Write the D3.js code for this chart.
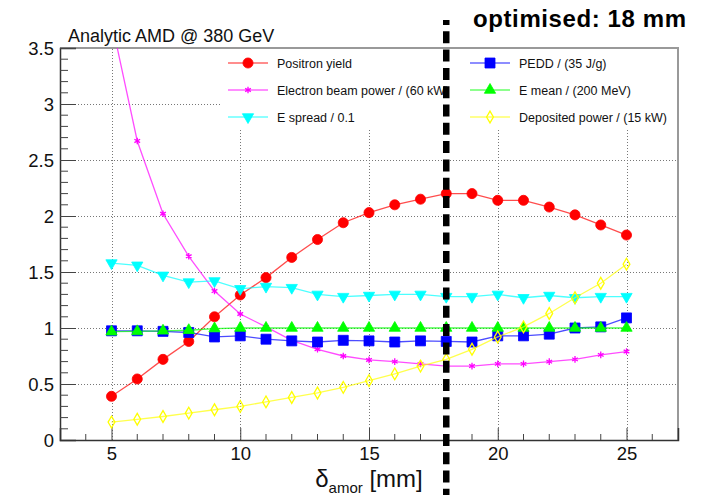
<!DOCTYPE html>
<html>
<head>
<meta charset="utf-8">
<script src="https://cdn.jsdelivr.net/npm/d3@7"></script>
<style>
  body { margin: 0; background: #fff; }
  svg { display: block; font-family: "Liberation Sans", Arial, Helvetica, sans-serif; }
</style>
</head>
<body>
<div id="chart"></div>
<script>
// x positions (amorphous target thickness, mm)
var amorMm = [5, 6, 7, 8, 9, 10, 11, 12, 13, 14, 15, 16, 17, 18, 19, 20, 21, 22, 23, 24, 25];

var positronYield = [0.39, 0.545, 0.72, 0.88, 1.10, 1.295, 1.45, 1.63, 1.79, 1.94, 2.03, 2.10, 2.15, 2.20, 2.20, 2.14, 2.14, 2.08, 2.01, 1.92, 1.83];
var beamPower     = [3.74, 2.67, 2.02, 1.64, 1.33, 1.125, 1.01, 0.89, 0.81, 0.75, 0.715, 0.70, 0.68, 0.66, 0.66, 0.68, 0.68, 0.70, 0.72, 0.76, 0.79];
var eSpread       = [1.58, 1.56, 1.47, 1.41, 1.42, 1.35, 1.37, 1.36, 1.30, 1.28, 1.29, 1.30, 1.30, 1.28, 1.28, 1.30, 1.27, 1.29, 1.27, 1.28, 1.28];
var pedd          = [0.975, 0.975, 0.97, 0.96, 0.92, 0.93, 0.90, 0.885, 0.875, 0.89, 0.885, 0.875, 0.885, 0.88, 0.875, 0.93, 0.93, 0.945, 1.0, 1.01, 1.09];
var eMean         = [0.967, 0.97, 0.975, 0.98, 0.995, 1.0, 1.0, 1.0, 1.0, 1.0, 1.0, 1.0, 1.0, 1.0, 1.0, 1.0, 1.0, 1.0, 1.0, 1.0, 1.0];
var depPower      = [0.16, 0.185, 0.21, 0.24, 0.27, 0.30, 0.34, 0.38, 0.42, 0.47, 0.53, 0.59, 0.66, 0.72, 0.81, 0.92, 1.01, 1.13, 1.27, 1.40, 1.57];

var yTicks = [0, 0.5, 1, 1.5, 2, 2.5, 3, 3.5];
var xTicks = [5, 10, 15, 20, 25];
var optimum = 18;

var W = 703, H = 495;
var L = 60, R = 678, T = 48, B = 440;

var svg = d3.select('#chart').append('svg').attr('width', W).attr('height', H);
svg.append('rect').attr('width', W).attr('height', H).attr('fill', '#fff');

var x = d3.scaleLinear().domain([3, 27]).range([L, R]);
var y = d3.scaleLinear().domain([0, 3.5]).range([B, T]);

// grid
var grid = svg.append('g').attr('stroke', '#777').attr('stroke-width', 1).attr('stroke-dasharray', '1,2');
grid.selectAll('line.gx').data(xTicks).enter().append('line')
	.attr('x1', function(d) { return Math.round(x(d)) + 0.5; }).attr('x2', function(d) { return Math.round(x(d)) + 0.5; })
	.attr('y1', B).attr('y2', T);
grid.selectAll('line.gy').data(yTicks.slice(1)).enter().append('line')
	.attr('y1', function(d) { return Math.round(y(d)) + 0.5; }).attr('y2', function(d) { return Math.round(y(d)) + 0.5; })
	.attr('x1', L).attr('x2', R);

// legend box hides the grid
var legX = 220, legY = T, legW = R - legX, legH = 82;
svg.append('rect').attr('x', legX).attr('y', legY).attr('width', legW).attr('height', legH).attr('fill', '#fff');

// frame (top / right in grey)
svg.append('path').attr('d', 'M' + L + ',' + T + 'H' + R + 'V' + B)
	.attr('fill', 'none').attr('stroke', '#999').attr('stroke-width', 2);

// axes
var yAxis = d3.axisLeft(y).tickValues(yTicks).tickSize(-16).tickPadding(6)
	.tickFormat(function(d) { return d3.format('')(d); });
var gy = svg.append('g').attr('transform', 'translate(' + L + ',0)').call(yAxis);
var xAxis = d3.axisBottom(x).tickValues(xTicks).tickSize(-12).tickPadding(7).tickFormat(d3.format('d'));
var gx = svg.append('g').attr('transform', 'translate(0,' + B + ')').call(xAxis);
[gx, gy].forEach(function(g) {
	g.select('.domain').attr('stroke', '#333').attr('stroke-width', 1.5);
	g.selectAll('.tick line').attr('stroke', '#444');
	g.selectAll('.tick text').attr('fill', '#111').attr('font-size', 18.5).attr('font-family', '"Liberation Sans", Arial, sans-serif');
});
gy.selectAll('.tick text').attr('dy', '0.36em');

// minor ticks
var yMinor = d3.range(0, 36).map(function(i) { return i / 10; }).filter(function(v) { return Math.round(v * 10) % 5 !== 0; });
svg.append('g').selectAll('line').data(yMinor).enter().append('line')
	.attr('x1', L).attr('x2', L + 8)
	.attr('y1', function(d) { return y(d); }).attr('y2', function(d) { return y(d); })
	.attr('stroke', '#444');
var xMinor = d3.range(4, 27).filter(function(v) { return v % 5 !== 0; });
svg.append('g').selectAll('line').data(xMinor).enter().append('line')
	.attr('y1', B).attr('y2', B - 6)
	.attr('x1', function(d) { return x(d); }).attr('x2', function(d) { return x(d); })
	.attr('stroke', '#444');

// series
var series = [
	{name: 'Positron yield', vals: positronYield, color: '#ff0000', sym: d3.symbolCircle, size: 80, fill: true},
	{name: 'Electron beam power / (60 kW)', vals: beamPower, color: '#ff00ff', sym: d3.symbolAsterisk, size: 30, fill: false},
	{name: 'PEDD / (35 J/g)', vals: pedd, color: '#0000ff', sym: d3.symbolSquare, size: 100, fill: true},
	{name: 'E mean / (200 MeV)', vals: eMean, color: '#00ff00', sym: d3.symbolTriangle, size: 55, fill: true},
	{name: 'E spread / 0.1', vals: eSpread, color: '#00ffff', sym: d3.symbolTriangle, size: 55, fill: true, flip: true},
	{name: 'Deposited power / (15 kW)', vals: depPower, color: '#ffff00', sym: d3.symbolDiamond, size: 40, fill: false}
];

svg.append('clipPath').attr('id', 'frameClip').append('rect')
	.attr('x', L).attr('y', T).attr('width', R - L).attr('height', B - T);
var plot = svg.append('g').attr('clip-path', 'url(#frameClip)');

function marker(sel, s) {
	sel.attr('d', d3.symbol().type(s.sym).size(s.size))
		.attr('fill', s.fill ? s.color : 'none')
		.attr('stroke', s.color)
		.attr('stroke-width', s.fill ? 0.8 : 1.3);
}

series.forEach(function(s) {
	var pts = amorMm.map(function(a, i) { return [a, s.vals[i]]; });
	var line = d3.line().x(function(d) { return x(d[0]); }).y(function(d) { return y(d[1]); });
	plot.append('path').datum(pts).attr('d', line)
		.attr('fill', 'none').attr('stroke', s.color).attr('stroke-width', 1.3).attr('stroke-opacity', 0.7);
	plot.append('g').selectAll('path').data(pts).enter().append('path')
		.attr('transform', function(d) { return 'translate(' + x(d[0]) + ',' + y(d[1]) + ')' + (s.flip ? ' rotate(180)' : ''); })
		.call(marker, s);
});

// legend: rows of [left, right] series index
var legRows = [[0, 2], [1, 3], [4, 5]];
var rowY = [63, 90, 117];
var colX = [228, 470];
legRows.forEach(function(row, r) {
	row.forEach(function(si, c) {
		var s = series[si];
		var g = svg.append('g').attr('transform', 'translate(' + colX[c] + ',' + rowY[r] + ')');
		g.append('line').attr('x1', 0).attr('x2', 40).attr('stroke', s.color).attr('stroke-width', 1.3).attr('stroke-opacity', 0.6);
		g.append('path').attr('transform', 'translate(20,0)' + (s.flip ? ' rotate(180)' : '')).call(marker, s);
		g.append('text').attr('x', 49).attr('y', 4.5).attr('font-size', 12.5).attr('fill', '#111').text(s.name);
	});
});

// title
svg.append('text').attr('x', 68).attr('y', 42).attr('font-size', 18).attr('fill', '#111').text('Analytic AMD @ 380 GeV');

// x axis title
var xt = svg.append('text').attr('x', (L + R) / 2).attr('y', 487).attr('text-anchor', 'middle')
	.attr('font-size', 24).attr('fill', '#111');
xt.append('tspan').text('\u03b4');
xt.append('tspan').attr('font-size', 15).attr('dy', 6).text('amor');
xt.append('tspan').attr('dy', -6).text(' [mm]');

// optimum marker
svg.append('line').attr('x1', x(optimum)).attr('x2', x(optimum)).attr('y1', 20).attr('y2', H)
	.attr('stroke', '#000').attr('stroke-width', 6.5).attr('stroke-dasharray', '12,6.3').attr('stroke-dashoffset', 7);
svg.append('text').attr('x', 473).attr('y', 27).attr('font-size', 24).attr('font-weight', 'bold')
	.attr('letter-spacing', 0.6).attr('fill', '#000').text('optimised: 18 mm');
</script>
</body>
</html>
